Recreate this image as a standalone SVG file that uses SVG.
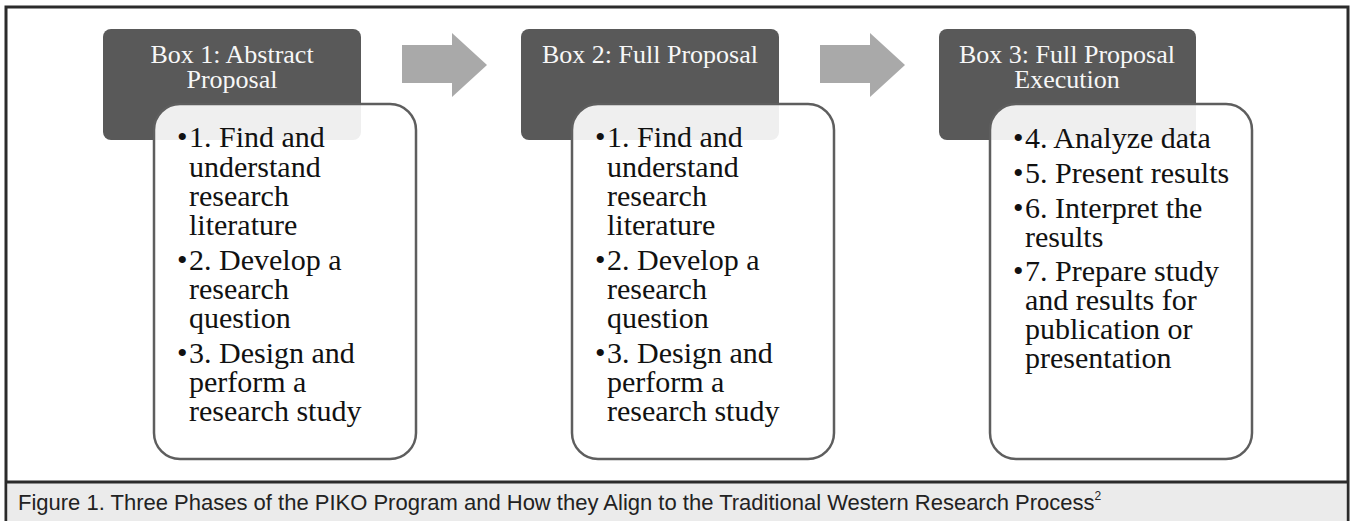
<svg xmlns="http://www.w3.org/2000/svg" width="1351" height="521" viewBox="0 0 1351 521">
  <style>
    .frame { fill: #ffffff; stroke: #2b2b2b; stroke-width: 3; }
    .cap-bg { fill: #ebebeb; }
    .sep { stroke: #2b2b2b; stroke-width: 3; }
    .head { fill: #595959; }
    .body { fill: #ffffff; fill-opacity: 0.9; stroke: #5e5e5e; stroke-width: 2.5; }
    .arrow { fill: #a9a9a9; }
    .ht { font-family: "Liberation Serif", "Times New Roman", serif; font-size: 26px; fill: #f7f7f7; text-anchor: middle; }
    .bt { font-family: "Liberation Serif", "Times New Roman", serif; font-size: 30px; fill: #111111; }
    .cap { font-family: "Liberation Sans", Arial, sans-serif; font-size: 22px; fill: #222222; }
  </style>

  <rect class="frame" x="6" y="7" width="1342" height="520"/>
  <rect class="cap-bg" x="7.5" y="483" width="1339" height="40"/>
  <line class="sep" x1="6" y1="482" x2="1348" y2="482"/>

  <g id="connectors">
    <polygon class="arrow" points="402,45 452,45 452,33 487,65 452,97 452,83 402,83"/>
    <polygon class="arrow" points="820,45 870,45 870,33 905,65 870,97 870,83 820,83"/>
  </g>

  <g id="box1">
    <rect class="head" x="103" y="29" width="258" height="111" rx="8"/>
    <text class="ht" x="232" y="63">Box 1: Abstract<tspan x="232" dy="25">Proposal</tspan></text>
    <rect class="body" x="154" y="104" width="262" height="355" rx="26"/>
    <text class="bt"><tspan x="177" y="147">•</tspan><tspan x="189" y="147">1. Find and</tspan><tspan x="189" y="177">understand</tspan><tspan x="189" y="206">research</tspan><tspan x="189" y="235">literature</tspan></text>
    <text class="bt"><tspan x="177" y="270">•</tspan><tspan x="189" y="270">2. Develop a</tspan><tspan x="189" y="299">research</tspan><tspan x="189" y="328">question</tspan></text>
    <text class="bt"><tspan x="177" y="363">•</tspan><tspan x="189" y="363">3. Design and</tspan><tspan x="189" y="392">perform a</tspan><tspan x="189" y="421">research study</tspan></text>
  </g>

  <g id="box2">
    <rect class="head" x="521" y="29" width="258" height="111" rx="8"/>
    <text class="ht" x="650" y="63">Box 2: Full Proposal</text>
    <rect class="body" x="572" y="104" width="262" height="355" rx="26"/>
    <text class="bt"><tspan x="595" y="147">•</tspan><tspan x="607" y="147">1. Find and</tspan><tspan x="607" y="177">understand</tspan><tspan x="607" y="206">research</tspan><tspan x="607" y="235">literature</tspan></text>
    <text class="bt"><tspan x="595" y="270">•</tspan><tspan x="607" y="270">2. Develop a</tspan><tspan x="607" y="299">research</tspan><tspan x="607" y="328">question</tspan></text>
    <text class="bt"><tspan x="595" y="363">•</tspan><tspan x="607" y="363">3. Design and</tspan><tspan x="607" y="392">perform a</tspan><tspan x="607" y="421">research study</tspan></text>
  </g>

  <g id="box3">
    <rect class="head" x="939" y="29" width="257" height="111" rx="8"/>
    <text class="ht" x="1067" y="63">Box 3: Full Proposal<tspan x="1067" dy="25">Execution</tspan></text>
    <rect class="body" x="990" y="104" width="262" height="355" rx="26"/>
    <text class="bt"><tspan x="1013" y="148">•</tspan><tspan x="1025" y="148">4. Analyze data</tspan></text>
    <text class="bt"><tspan x="1013" y="183">•</tspan><tspan x="1025" y="183">5. Present results</tspan></text>
    <text class="bt"><tspan x="1013" y="218">•</tspan><tspan x="1025" y="218">6. Interpret the</tspan><tspan x="1025" y="247">results</tspan></text>
    <text class="bt"><tspan x="1013" y="281">•</tspan><tspan x="1025" y="281">7. Prepare study</tspan><tspan x="1025" y="310">and results for</tspan><tspan x="1025" y="339">publication or</tspan><tspan x="1025" y="368">presentation</tspan></text>
  </g>

  <g id="caption">
    <text class="cap" x="18" y="510">Figure 1. Three Phases of the PIKO Program and How they Align to the Traditional Western Research Process<tspan font-size="12" dy="-10">2</tspan></text>
  </g>
</svg>
